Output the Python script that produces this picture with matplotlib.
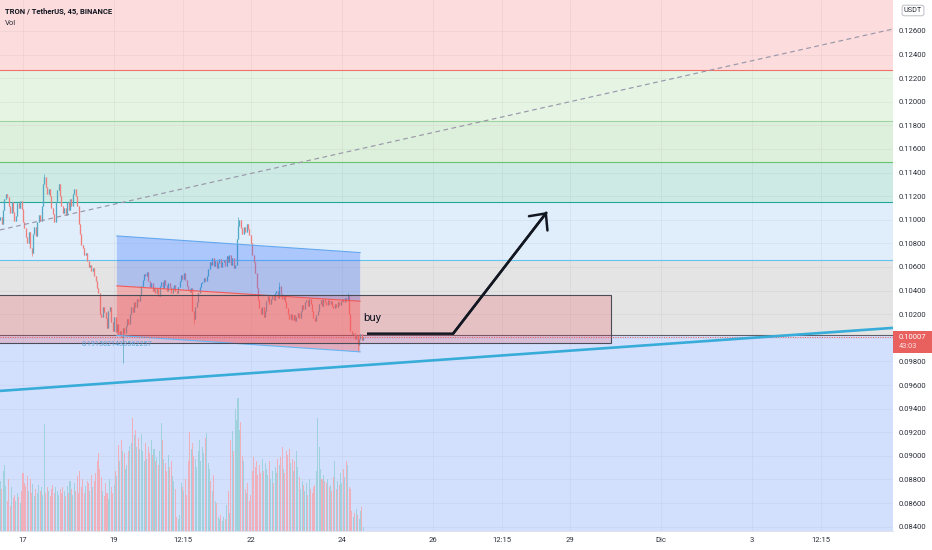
import numpy as np
import matplotlib
matplotlib.use("Agg")
import matplotlib.pyplot as plt
from matplotlib.patches import Polygon, Rectangle
from matplotlib.transforms import blended_transform_factory

plt.rcParams['font.family'] = ['Roboto', 'DejaVu Sans']

# ---------------- data ----------------
BAR_DAYS = 45 / 1440          # 45-minute candles
START_DAY = 16.5              # Nov 16, 12:00
FIRST_OPEN_E5 = 11000

CLOSE_E5 = [
    11020, 10960, 11080, 11180, 11220, 11190, 11120, 11060, 11150, 11070,
    10990, 11030, 11140, 11100, 11160, 11090, 10980, 10930, 10850, 10800,
    10900, 10760, 10720, 10880, 10940, 10860, 10980, 11040, 10990, 11120,
    11300, 11360, 11280, 11220, 11260, 11200, 11100, 11050, 10980, 11150,
    11250, 11300, 11200, 11120, 11060, 11100, 11040, 11150, 11080, 11180,
    11120, 11220, 11260, 11200, 11120, 10960, 10880, 10790, 10760, 10700,
    10720, 10650, 10600, 10620, 10570, 10590, 10520, 10480, 10420, 10380,
    10200, 10180, 10260, 10220, 10170, 10080, 10230, 10260, 10130, 10060,
    10180, 10050, 10120, 10020, 10060, 10010, 10080, 10040, 10100, 10160,
    10120, 10200, 10260, 10220, 10300, 10260, 10330, 10310, 10360, 10440,
    10490, 10540, 10520, 10560, 10480, 10430, 10460, 10400, 10420, 10380,
    10410, 10350, 10440, 10470, 10420, 10490, 10450, 10400, 10460, 10430,
    10380, 10420, 10450, 10400, 10380, 10430, 10480, 10530, 10500, 10550,
    10490, 10440, 10410, 10390, 10420, 10230, 10160, 10260, 10300, 10380,
    10430, 10460, 10470, 10510, 10480, 10520, 10580, 10640, 10620, 10680,
    10610, 10650, 10590, 10630, 10670, 10600, 10640, 10660, 10610, 10690,
    10640, 10700, 10620, 10680, 10590, 10620, 10840, 10950, 11000, 10930,
    10880, 10940, 10900, 10960, 10920, 10870, 10800, 10700, 10640, 10550,
    10420, 10320, 10250, 10200, 10260, 10180, 10230, 10310, 10350, 10290,
    10330, 10360, 10320, 10380, 10400, 10340, 10440, 10370, 10330, 10360,
    10300, 10250, 10200, 10160, 10200, 10150, 10190, 10140, 10180, 10210,
    10170, 10230, 10280, 10240, 10300, 10320, 10270, 10330, 10290, 10230,
    10170, 10140, 10190, 10230, 10290, 10320, 10270, 10330, 10300, 10280,
    10320, 10290, 10310, 10270, 10250, 10290, 10260, 10300, 10280, 10310,
    10330, 10300, 10340, 10310, 10350, 10200, 10060, 10030, 10040, 9990,
    10020, 9940, 9990, 10030, 9980, 10007,
]
HIGH_WICK_E5 = {31: 11390, 167: 11020, 196: 10470, 244: 10380}
LOW_WICK_E5 = {22: 10690, 86: 9790, 136: 10120, 251: 9880}

VOLUME = [
    50, 42, 60, 66, 45, 30, 52, 25, 44, 33,
    36, 30, 38, 34, 28, 40, 58, 48, 45, 55,
    40, 52, 38, 47, 35, 42, 38, 46, 40, 44,
    36, 106, 38, 44, 40, 35, 42, 46, 38, 44,
    40, 36, 42, 38, 44, 40, 35, 45, 38, 50,
    42, 36, 48, 40, 55, 38, 60, 44, 52, 38,
    45, 50, 48, 40, 56, 44, 50, 58, 70, 78,
    62, 54, 40, 35, 48, 38, 32, 52, 44, 38,
    46, 60, 55, 86, 70, 90, 80, 78, 62, 66,
    80, 85, 88, 112, 95, 100, 84, 92, 82, 96,
    80, 70, 88, 72, 84, 78, 90, 76, 82, 70,
    74, 66, 80, 107, 90, 72, 68, 60, 76, 64,
    70, 55, 50, 42, 14, 12, 16, 48, 44, 40,
    52, 36, 70, 98, 82, 88, 75, 72, 64, 80,
    90, 70, 84, 78, 92, 97, 68, 62, 50, 40,
    56, 30, 28, 14, 12, 16, 10, 14, 12, 26,
    40, 18, 90, 99, 80, 121, 110, 132, 100, 108,
    75, 70, 42, 38, 48, 30, 36, 60, 74, 64,
    70, 56, 66, 58, 72, 60, 68, 62, 56, 70,
    52, 60, 48, 64, 58, 72, 66, 74, 84, 62,
    58, 80, 76, 82, 68, 72, 60, 70, 80, 64,
    54, 42, 50, 46, 40, 48, 36, 52, 42, 38,
    44, 46, 60, 112, 84, 62, 52, 56, 50, 48,
    52, 44, 46, 40, 54, 70, 42, 50, 46, 58,
    48, 62, 54, 70, 66, 44, 42, 20, 14, 18,
    22, 16, 12, 20, 24, 4,
]

FIB_LEVELS = [0.12269, 0.11840, 0.11490, 0.11151, 0.10660, 0.10025]
FIB_FILLS = ['#fcdcdc', '#e6f4e4', '#ddf0db', '#cdeae5', '#dfeefa', '#e4e4e4', '#d3e0fd']
FIB_LINE_COLORS = ['#f2716a', '#9fd49e', '#6cc36e', '#26a69a', '#67c1ee', '#5d606b']
FIB_LABEL = "0.1915021433562257"
FIB_LABEL_T, FIB_LABEL_P = 19.06, 0.09940

DASH_T = [16.495, 36.095]
DASH_P = [0.10914, 0.12616]
SUPPORT_T = [16.495, 36.095]
SUPPORT_P = [0.09550, 0.10084]
CHANNEL_T = [19.06, 24.40]
CHANNEL_TOP = [0.10863, 0.10722]
CHANNEL_MID = [0.10440, 0.10310]
CHANNEL_BOT = [0.10020, 0.09881]
BOX_T = [16.0, 29.91]
BOX_P = [0.09957, 0.10363]
ARROW_T = [24.55, 26.44, 28.50]
ARROW_P = [0.10035, 0.10035, 0.11066]
BUY_T, BUY_P = 24.46, 0.10169
LAST_PRICE = 0.10007
COUNTDOWN = "43:03"

TICK_DAYS = [17, 19, 20 + 12.25 / 24, 22, 24, 26, 27 + 12.25 / 24, 29, 31, 33, 34 + 12.25 / 24]
TICK_LABELS = ["17", "19", "12:15", "22", "24", "26", "12:15", "29", "Dic", "3", "12:15"]
PRICE_TICKS = [0.084 + 0.002 * k for k in range(22)]
XLIM = (16.495, 36.095)
YLIM = (0.08363, 0.12862)

# ---------------- figure ----------------
W, H = 932, 550
fig = plt.figure(figsize=(W / 100, H / 100), dpi=100)
fig.patch.set_facecolor('white')
ax = fig.add_axes([0, 19 / H, 893 / W, 531 / H])
ax.set_xlim(*XLIM)
ax.set_ylim(*YLIM)

# fib zones
bounds = [1.0] + FIB_LEVELS + [0.0]
for k, col in enumerate(FIB_FILLS):
    ax.axhspan(bounds[k + 1], bounds[k], color=col, lw=0, zorder=0)
for lvl, col in zip(FIB_LEVELS, FIB_LINE_COLORS):
    ax.axhline(lvl, color=col, lw=0.8, zorder=1)

# grid
ax.set_axisbelow(True)
ax.set_xticks(TICK_DAYS, TICK_LABELS)
ax.set_yticks(PRICE_TICKS, [f"{p:.5f}" for p in PRICE_TICKS])
ax.grid(True, color='#000000', alpha=0.045, lw=0.6)

# candles
close = np.array(CLOSE_E5) / 1e5
opn = np.concatenate([[FIRST_OPEN_E5 / 1e5], close[:-1]])
n = len(close)
t = START_DAY + np.arange(n) * BAR_DAYS
hi = np.maximum(opn, close)
lo = np.minimum(opn, close)
for i, v in HIGH_WICK_E5.items():
    hi[i] = v / 1e5
for i, v in LOW_WICK_E5.items():
    lo[i] = v / 1e5
up = close >= opn
ccol = np.where(up, '#52aac4', '#ee807e')
ax.vlines(t, lo, hi, colors=ccol, lw=0.5, zorder=2)
b0 = np.minimum(opn, close)
b1 = np.maximum(np.maximum(opn, close), b0 + 0.00005)
ax.vlines(t, b0, b1, colors=ccol, lw=0.95, zorder=2)

# dashed trend line
ax.plot(DASH_T, DASH_P, color='#9a97aa', lw=0.85, ls=(0, (4, 3)), zorder=3)
# support line
ax.plot(SUPPORT_T, SUPPORT_P, color='#38acd9', lw=1.9, zorder=4, solid_capstyle='butt')

# channel
ax.add_patch(Polygon([(CHANNEL_T[0], CHANNEL_TOP[0]), (CHANNEL_T[1], CHANNEL_TOP[1]),
                      (CHANNEL_T[1], CHANNEL_MID[1]), (CHANNEL_T[0], CHANNEL_MID[0])],
                     closed=True, facecolor='#2962ff', alpha=0.28, lw=0, zorder=3))
ax.add_patch(Polygon([(CHANNEL_T[0], CHANNEL_MID[0]), (CHANNEL_T[1], CHANNEL_MID[1]),
                      (CHANNEL_T[1], CHANNEL_BOT[1]), (CHANNEL_T[0], CHANNEL_BOT[0])],
                     closed=True, facecolor='#ff5252', alpha=0.36, lw=0, zorder=3))
ax.plot(CHANNEL_T, CHANNEL_TOP, color='#64a8f0', lw=0.8, zorder=3.2)
ax.plot(CHANNEL_T, CHANNEL_MID, color='#f05a5a', lw=0.8, zorder=3.2)
ax.plot(CHANNEL_T, CHANNEL_BOT, color='#64b5f6', lw=0.8, zorder=3.2)

# box
ax.add_patch(Rectangle((BOX_T[0], BOX_P[0]), BOX_T[1] - BOX_T[0], BOX_P[1] - BOX_P[0],
                       facecolor='#f23645', alpha=0.2, lw=0, zorder=3))
ax.add_patch(Rectangle((BOX_T[0], BOX_P[0]), BOX_T[1] - BOX_T[0], BOX_P[1] - BOX_P[0],
                       facecolor='none', edgecolor='#4a4d57', lw=0.8, zorder=3.3))

# current price line
ax.axhline(LAST_PRICE, color='#ef5350', lw=0.7, ls=(0, (1, 1.5)), zorder=3.4)

# fib label
ax.text(FIB_LABEL_T, FIB_LABEL_P, FIB_LABEL, color='#5aa6df', fontsize=5.2,
        ha='center', va='center', zorder=5)

# buy + arrow
ax.text(BUY_T, BUY_P, "buy", color='#131722', fontsize=8.2, ha='left', va='center', zorder=6)
ax.plot(ARROW_T, ARROW_P, color='#131722', lw=1.8, zorder=6, solid_joinstyle='miter',
        solid_capstyle='butt')
ax.annotate('', xy=(ARROW_T[2], ARROW_P[2]), xytext=(ARROW_T[1], ARROW_P[1]),
            arrowprops=dict(arrowstyle='->,head_length=0.45,head_width=0.42',
                            mutation_scale=20, lw=1.8, color='#131722',
                            shrinkA=0, shrinkB=0), zorder=6)

# axes styling
for s in ['top', 'left', 'right']:
    ax.spines[s].set_visible(False)
ax.spines['bottom'].set_color('#e0e3eb')
ax.spines['bottom'].set_linewidth(0.8)
ax.yaxis.tick_right()
ax.tick_params(axis='y', length=0, pad=4.2, labelsize=5.5, labelcolor='#2a2e39')
ax.tick_params(axis='x', length=0, pad=4.6, labelsize=5.5, labelcolor='#2a2e39')

# last price label on axis
trans = blended_transform_factory(ax.transAxes, ax.transData)
ax.add_patch(Rectangle((1.0, LAST_PRICE - 0.00136), 39 / 893, 0.00187, transform=trans,
                       facecolor='#e8615f', edgecolor='none', clip_on=False, zorder=10))
ax.text(1.0 + 6 / 893, LAST_PRICE, f"{LAST_PRICE:.5f}", transform=trans, color='white',
        fontsize=5.5, ha='left', va='center', clip_on=False, zorder=11)
ax.text(1.0 + 6 / 893, LAST_PRICE - 0.00085, COUNTDOWN, transform=trans, color='#fde0e0',
        fontsize=5.3, ha='left', va='center', clip_on=False, zorder=11)

# volume pane
vax = fig.add_axes([0, 19 / H, 893 / W, 531 / H], sharex=ax)
vax.patch.set_alpha(0)
vax.axis('off')
vax.set_ylim(0, max(VOLUME) * 4.0)
vcol = np.where(up, '#9fd2dc', '#efb0bb')
vax.bar(t, VOLUME, width=0.72 * BAR_DAYS, color=vcol, lw=0)
vax.set_xlim(*XLIM)

# titles
fig.text(5 / W, 1 - 11 / H, "TRON / TetherUS, 45, BINANCE", fontsize=5.5, weight='bold',
         color='#131722', ha='left', va='center')
fig.text(5 / W, 1 - 23 / H, "Vol", fontsize=5.5, color='#2a2e39', ha='left', va='center')
fig.text(913 / W, 1 - 10.5 / H, "USDT", fontsize=5.2, color='#2a2e39', ha='center', va='center',
         bbox=dict(boxstyle='round,pad=0.25,rounding_size=0.3', fc='white', ec='#b2b5be', lw=0.6))

fig.savefig('out.png', dpi=100, facecolor='white')
